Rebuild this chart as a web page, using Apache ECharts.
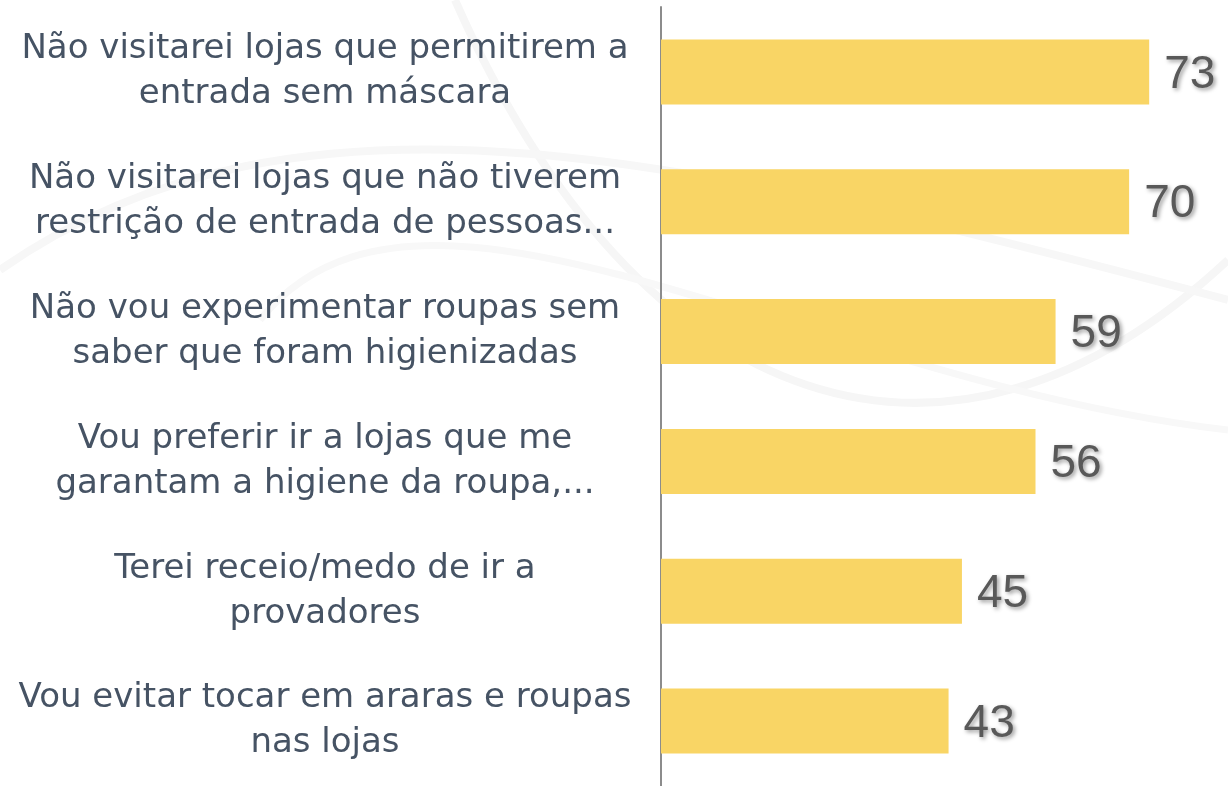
<!DOCTYPE html>
<html>
<head>
<meta charset="utf-8">
<script src="https://cdn.jsdelivr.net/npm/echarts@6/dist/echarts.min.js"></script>
<style>
  html, body { margin: 0; padding: 0; background: #fff; }
  #main { width: 1228px; height: 786px; }
</style>
</head>
<body>
<div id="main"></div>
<script>
// categorias (de cima para baixo)
var categories = [
    'Não visitarei lojas que permitirem a\nentrada sem máscara',
    'Não visitarei lojas que não tiverem\nrestrição de entrada de pessoas...',
    'Não vou experimentar roupas sem\nsaber que foram higienizadas',
    'Vou preferir ir a lojas que me\ngarantam a higiene da roupa,...',
    'Terei receio/medo de ir a\nprovadores',
    'Vou evitar tocar em araras e roupas\nnas lojas'
];
var values = [73, 70, 59, 56, 45, 43];

var myChart = echarts.init(document.getElementById('main'));

var option = {
    backgroundColor: '#ffffff',
    animation: false,
    // curvas decorativas do fundo
    graphic: [
        {
            type: 'bezierCurve', z: -10, silent: true,
            shape: { x1: 455, y1: 0, x2: 1228, y2: 260, cpx1: 640, cpy1: 420, cpx2: 950, cpy2: 520 },
            style: { stroke: '#f6f6f6', lineWidth: 8, fill: null }
        },
        {
            type: 'bezierCurve', z: -10, silent: true,
            shape: { x1: 0, y1: 270, x2: 1228, y2: 300, cpx1: 300, cpy1: 60, cpx2: 700, cpy2: 160 },
            style: { stroke: '#f7f7f7', lineWidth: 8, fill: null }
        },
        {
            type: 'bezierCurve', z: -10, silent: true,
            shape: { x1: 260, y1: 320, x2: 1228, y2: 430, cpx1: 420, cpy1: 120, cpx2: 800, cpy2: 380 },
            style: { stroke: '#f8f8f8', lineWidth: 7, fill: null }
        }
    ],
    grid: {
        left: 661,
        width: 535,
        top: 7,
        bottom: 0,
        containLabel: false
    },
    xAxis: {
        type: 'value',
        min: 0,
        max: 80,
        show: false
    },
    yAxis: {
        type: 'category',
        data: categories,
        inverse: true,
        axisLine: { show: true, lineStyle: { color: '#8c8c8c', width: 2 } },
        axisTick: { show: false },
        splitLine: { show: false },
        axisLabel: {
            margin: 336,
            align: 'center',
            padding: [6, 0, 0, 0],
            fontFamily: 'DejaVu Sans',
            fontSize: 34,
            lineHeight: 45,
            color: '#465364'
        }
    },
    series: [
        {
            type: 'bar',
            data: values,
            barWidth: 65,
            itemStyle: { color: '#f9d565' },
            label: {
                show: true,
                position: 'right',
                distance: 15,
                offset: [0, 3],
                fontFamily: 'Liberation Sans',
                fontSize: 46,
                color: '#595959',
                textShadowColor: 'rgba(0,0,0,0.4)',
                textShadowBlur: 4,
                textShadowOffsetX: 2,
                textShadowOffsetY: 2
            }
        }
    ]
};

myChart.setOption(option);
</script>
</body>
</html>
